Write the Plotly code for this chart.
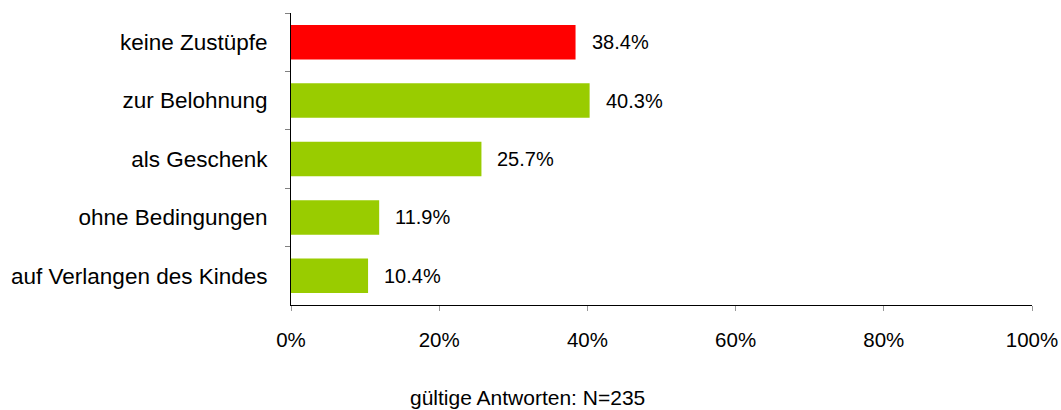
import plotly.graph_objects as go

categories = ["keine Zustüpfe", "zur Belohnung", "als Geschenk", "ohne Bedingungen", "auf Verlangen des Kindes"]
values = [38.4, 40.3, 25.7, 11.9, 10.4]
colors = ["#FF0000", "#99CC00", "#99CC00", "#99CC00", "#99CC00"]
x_ticks = [0, 20, 40, 60, 80, 100]
x_tick_labels = ["0%", "20%", "40%", "60%", "80%", "100%"]
footnote = "gültige Antworten: N=235"

FONT = "Liberation Sans, Arial, sans-serif"

L, R, T, B = 291, 29, 13, 105
W, H = 1061, 410
pw, ph = W - L - R, H - T - B

fig = go.Figure()
fig.add_trace(go.Bar(
    y=categories, x=values, orientation="h",
    marker=dict(color=colors, line=dict(width=0)),
    hoverinfo="skip",
))

for c, v in zip(categories, values):
    fig.add_annotation(
        x=v, y=c, xref="x", yref="y", text=f"{v:.1f}%",
        showarrow=False, xanchor="left", xshift=14,
        font=dict(family=FONT, size=20, color="#000000"),
    )

fig.add_annotation(
    x=(527 - L) / pw, y=(H - B - 397) / ph, xref="paper", yref="paper",
    text=footnote, showarrow=False, xanchor="center", yanchor="middle",
    font=dict(family=FONT, size=21, color="#000000"),
)

fig.update_layout(
    width=W, height=H,
    margin=dict(l=L, r=R, t=T, b=B, pad=0, autoexpand=False),
    plot_bgcolor="white", paper_bgcolor="white",
    bargap=0.41, showlegend=False,
    font=dict(family=FONT, size=20, color="#000000"),
)
fig.update_xaxes(
    range=[0, 100], tickvals=x_ticks, ticktext=x_tick_labels,
    showgrid=False, zeroline=False, showline=True, linecolor="black", linewidth=1,
    ticks="outside", ticklen=5, tickcolor="#999999", tickwidth=1,
    ticklabelstandoff=11, automargin=False,
    tickfont=dict(family=FONT, size=20.5, color="#000000"),
)
fig.update_yaxes(
    autorange="reversed", type="category",
    showgrid=False, zeroline=False, showline=True, linecolor="black", linewidth=1,
    ticks="outside", ticklen=5, tickcolor="#808080", tickwidth=1, tickson="boundaries",
    ticklabelstandoff=18, automargin=False,
    tickfont=dict(family=FONT, size=22.5, color="#000000"),
)

fig.write_html(
    "out.html",
    config={"displayModeBar": False, "staticPlot": True},
    post_script="document.body.style.margin='0';document.body.style.padding='0';document.body.style.overflow='hidden';",
)
